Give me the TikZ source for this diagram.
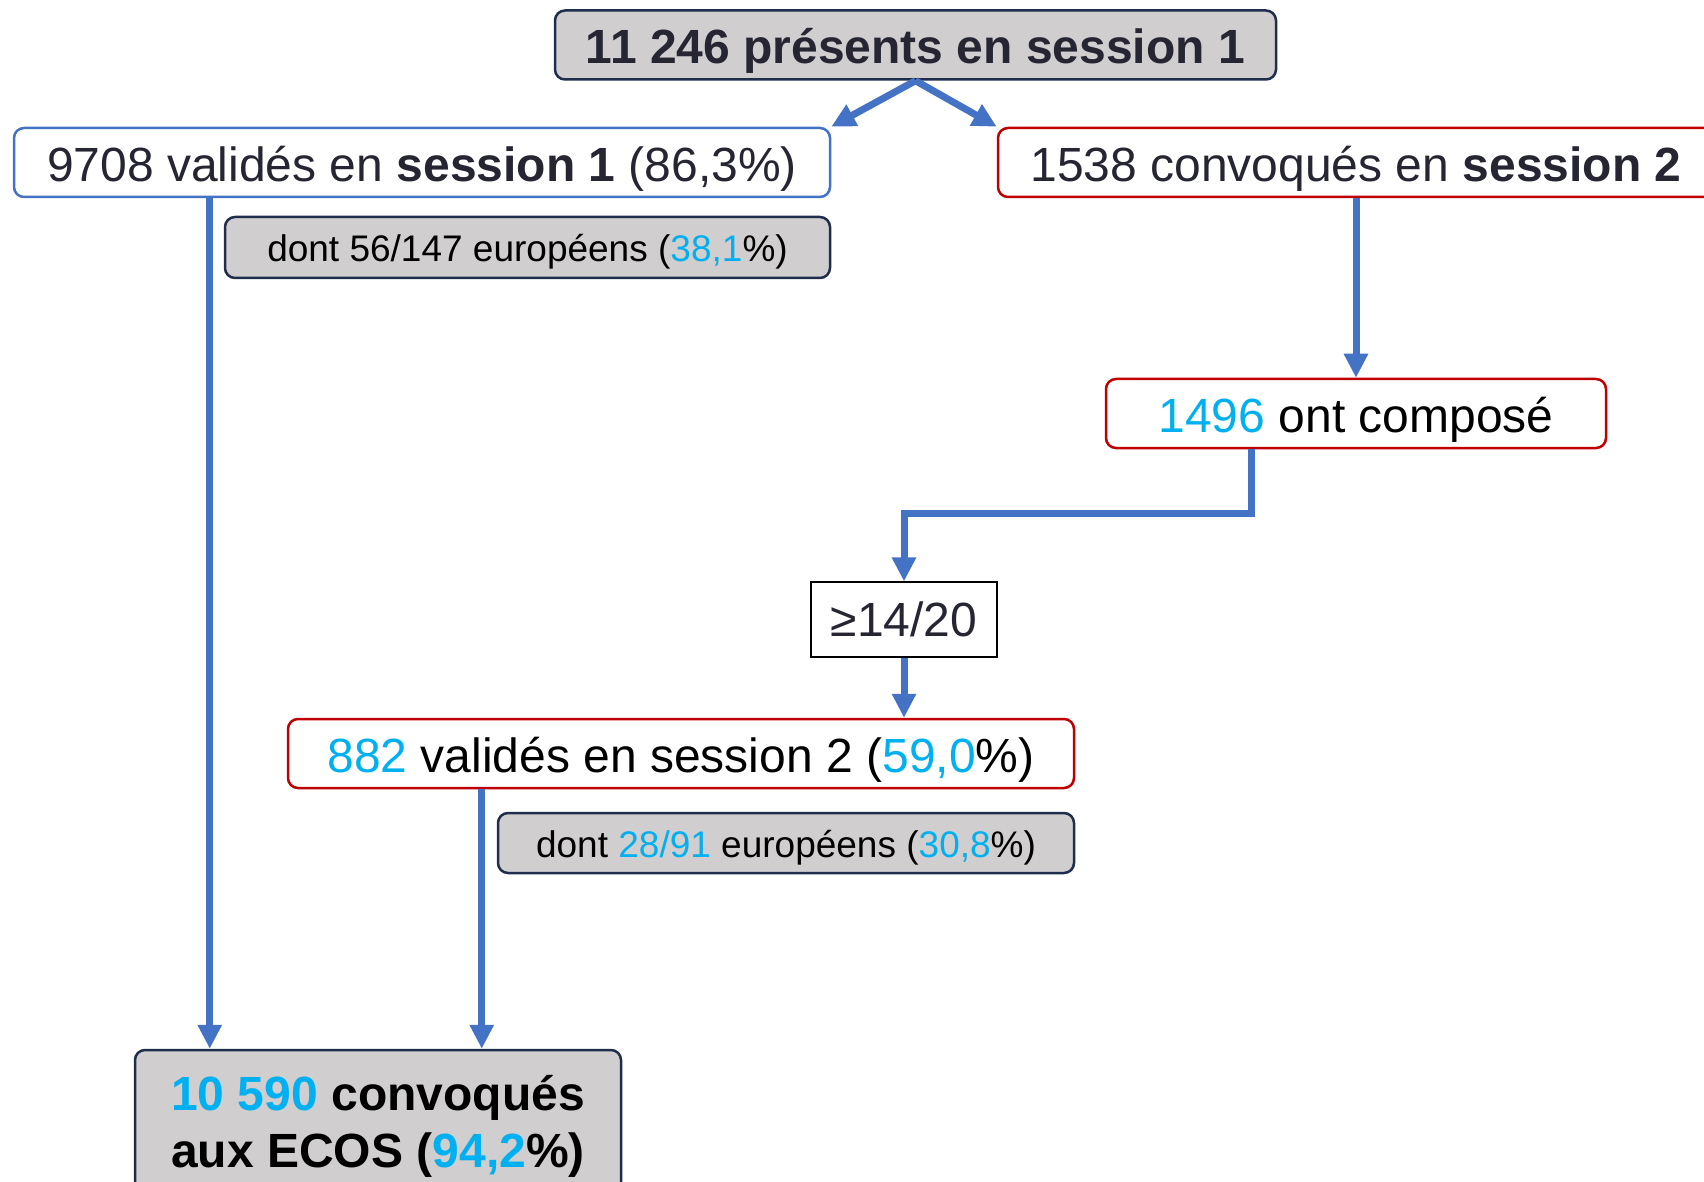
\documentclass[tikz,border=0pt]{standalone}
\usepackage{fontspec}
\setmainfont{Liberation Sans}
\usetikzlibrary{arrows.meta}
\usetikzlibrary{positioning}
\definecolor{flowblue}{HTML}{4472C4}
\definecolor{boxred}{HTML}{C00000}
\definecolor{boxgray}{HTML}{D0CECE}
\definecolor{boxnavy}{HTML}{1F2E4D}
\definecolor{numcyan}{HTML}{00B0F0}
\definecolor{darktext}{HTML}{262633}
\tikzset{every node/.style={inner sep=0pt, font=\fontsize{24}{28.5}\selectfont}, % Text of the main boxes
box/.style={ % Sets the properties for each rounded box
draw,
rounded corners=5pt,
line width=1.25pt,
fill=white,
minimum height=34.5pt},
oneline/.style={text height=19pt, text depth=0pt}, % Puts the single line a bit low, as on the slide
bluebox/.style={box, oneline, draw=flowblue},
redbox/.style={box, oneline, draw=boxred},
graybox/.style={box, draw=boxnavy, fill=boxgray},
subbox/.style={graybox, minimum height=30.5pt, text height=14pt, text depth=0pt, font=\fontsize{18.5}{22}\selectfont}, % Small "dont ... européens" boxes
flow/.style={ % Thick blue arrows
draw=flowblue,
line width=3.5pt,
-{Triangle[width=11.5pt,length=12pt]}},
every edge/.style={flow}}
\newcommand{\cy}[1]{\textcolor{numcyan}{#1}}

\begin{document}
\begin{tikzpicture}[x=0.5pt, y=-0.5pt]
\useasboundingbox (0,0) rectangle (1704,1182);
\node[graybox, oneline, minimum width=360.5pt, text=darktext, font=\fontsize{24}{28.5}\selectfont\bfseries] (top) at (915.5,45) {11 246 présents en session 1};
\node[bluebox, minimum width=408pt, text=darktext] (valid1) at (422,162.5) {9708 validés en \textbf{session 1} (86,3\%)};
\node[redbox, minimum width=358pt, text=darktext] (conv2) at (1356,162.5) {1538 convoqués en \textbf{session 2}};
\node[subbox, minimum width=302.5pt] (eu1) at (527.5,247.5) {dont 56/147 européens (\cy{38,1}\%)};
\node[redbox, minimum width=250pt] (compose) at (1356,413.5) {\cy{1496} ont composé};
\node[draw, line width=0.6pt, fill=white, minimum width=93pt, minimum height=37.5pt, text=darktext] (seuil) at (904,619.5) {≥14/20};
\node[redbox, minimum width=393pt] (valid2) at (681,753.5) {\cy{882} validés en session 2 (\cy{59,0}\%)};
\node[subbox, minimum width=288pt, minimum height=30pt] (eu2) at (786,843) {dont \cy{28/91} européens (\cy{30,8}\%)};
\node[graybox, minimum width=243pt, minimum height=76pt, align=center, font=\fontsize{24}{28.5}\selectfont\bfseries] (ecos) at (378,1126) {\cy{10 590} convoqués\\aux ECOS (\cy{94,2}\%)};
\coordinate (v1out) at ([xshift=98.5pt]valid1.south west);
\coordinate (v2out) at ([xshift=97.5pt]valid2.south west);
\coordinate (cout) at ([xshift=73.5pt]compose.south west);
\draw (top.south) edge (valid1.north east)
edge (conv2.north west)
(conv2.south) edge (compose.north)
(seuil.south) edge (seuil.south |- valid2.north)
(v1out) edge (v1out |- ecos.north)
(v2out) edge (v2out |- ecos.north);
\draw[flow] (cout) -- ++(0,64) -| (seuil.north);
\end{tikzpicture}
\end{document}
